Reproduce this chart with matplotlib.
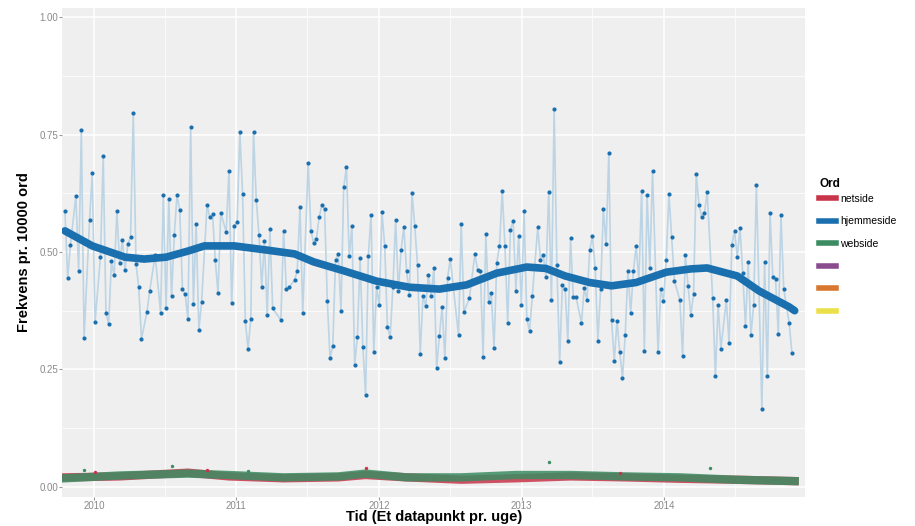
import numpy as np
import pandas as pd
import matplotlib
matplotlib.use("Agg")
import matplotlib.pyplot as plt
import matplotlib.dates as mdates
from matplotlib.lines import Line2D

plt.rcParams['font.family'] = ['Liberation Sans', 'DejaVu Sans']

# start of the weekly series
start = pd.Timestamp("2009-10-19")

# hjemmeside: week number (from start) and frequency
hj_week = [0, 1, 2, 4, 5, 6, 7, 9, 10, 11, 13, 14, 15, 16, 17, 18, 19, 20, 21, 22,
           23, 24, 25, 26, 27, 28, 30, 31, 33, 35, 36, 37, 38, 39, 40, 41, 42, 43, 44, 45,
           46, 47, 48, 49, 50, 52, 53, 54, 55, 56, 57, 59, 60, 61, 62, 63, 64, 65, 66, 67,
           68, 69, 70, 71, 72, 73, 74, 75, 76, 79, 80, 81, 82, 84, 85, 86, 87, 89, 90, 91,
           92, 93, 94, 95, 96, 97, 98, 99, 100, 101, 102, 103, 104, 105, 106, 107, 108, 109, 110, 111,
           112, 113, 114, 115, 116, 117, 118, 119, 120, 121, 122, 123, 124, 125, 126, 127, 128, 129, 130, 131,
           132, 133, 134, 135, 136, 137, 138, 139, 140, 141, 144, 145, 146, 148, 150, 151, 152, 153, 154, 155,
           156, 157, 158, 159, 160, 161, 162, 163, 164, 165, 166, 167, 168, 169, 170, 171, 173, 174, 175, 176,
           177, 178, 179, 180, 181, 182, 183, 184, 185, 186, 187, 189, 190, 191, 192, 193, 194, 195, 196, 197,
           198, 199, 200, 201, 202, 203, 204, 205, 206, 207, 208, 209, 210, 211, 212, 213, 214, 215, 217, 218,
           219, 220, 221, 222, 223, 225, 226, 227, 228, 229, 230, 231, 232, 233, 234, 235, 237, 238, 239, 240,
           242, 243, 244, 245, 246, 247, 248, 249, 250, 251, 252, 253, 255, 256, 257, 258, 259, 260, 261, 262,
           263, 265, 266]
hj_val = [0.587, 0.445, 0.515, 0.62, 0.46, 0.76, 0.317, 0.568, 0.668, 0.35, 0.49, 0.704, 0.37, 0.347, 0.48, 0.45, 0.587, 0.477, 0.525, 0.462,
          0.517, 0.532, 0.796, 0.474, 0.425, 0.315, 0.372, 0.417, 0.493, 0.37, 0.621, 0.38, 0.613, 0.406, 0.536, 0.621, 0.589, 0.421, 0.41, 0.357,
          0.766, 0.39, 0.56, 0.334, 0.394, 0.6, 0.574, 0.581, 0.483, 0.412, 0.583, 0.543, 0.672, 0.391, 0.555, 0.564, 0.755, 0.623, 0.353, 0.294,
          0.357, 0.755, 0.611, 0.536, 0.426, 0.524, 0.366, 0.549, 0.38, 0.355, 0.545, 0.421, 0.425, 0.44, 0.46, 0.596, 0.37, 0.689, 0.545, 0.519,
          0.528, 0.574, 0.6, 0.591, 0.396, 0.274, 0.3, 0.483, 0.496, 0.375, 0.638, 0.681, 0.491, 0.555, 0.26, 0.319, 0.487, 0.298, 0.196, 0.491,
          0.579, 0.287, 0.426, 0.387, 0.585, 0.513, 0.34, 0.319, 0.426, 0.568, 0.417, 0.504, 0.553, 0.46, 0.409, 0.626, 0.555, 0.472, 0.283, 0.406,
          0.385, 0.451, 0.406, 0.466, 0.253, 0.321, 0.383, 0.274, 0.445, 0.485, 0.323, 0.56, 0.372, 0.402, 0.496, 0.462, 0.46, 0.277, 0.538, 0.394,
          0.413, 0.296, 0.477, 0.513, 0.63, 0.513, 0.349, 0.547, 0.566, 0.417, 0.534, 0.387, 0.587, 0.357, 0.332, 0.406, 0.553, 0.483, 0.494, 0.447,
          0.628, 0.398, 0.804, 0.472, 0.266, 0.43, 0.421, 0.311, 0.53, 0.404, 0.404, 0.349, 0.423, 0.398, 0.504, 0.534, 0.466, 0.311, 0.421, 0.591,
          0.517, 0.711, 0.355, 0.268, 0.353, 0.287, 0.232, 0.323, 0.46, 0.37, 0.46, 0.513, 0.438, 0.63, 0.289, 0.621, 0.466, 0.672, 0.287, 0.421,
          0.396, 0.483, 0.623, 0.532, 0.438, 0.398, 0.279, 0.494, 0.428, 0.366, 0.41, 0.666, 0.6, 0.574, 0.583, 0.628, 0.402, 0.236, 0.387, 0.294,
          0.398, 0.306, 0.515, 0.545, 0.489, 0.551, 0.455, 0.343, 0.479, 0.323, 0.387, 0.643, 0.166, 0.479, 0.236, 0.583, 0.447, 0.443, 0.326, 0.579,
          0.421, 0.349, 0.285]

# smoothed trend
sm_week = [0, 10, 22, 29, 37, 45, 51, 62, 74, 84, 91, 102, 114, 126, 137, 147, 158, 169, 176, 183,
           192, 200, 209, 220, 229, 235, 246, 254, 265, 267]
sm_val = [0.545, 0.513, 0.489, 0.485, 0.489, 0.502, 0.513, 0.513, 0.504, 0.496, 0.479, 0.46, 0.438, 0.425, 0.421, 0.43, 0.455, 0.468, 0.465, 0.449,
          0.435, 0.428, 0.435, 0.457, 0.464, 0.466, 0.449, 0.417, 0.383, 0.375]

# netside / webside: low level trends
low_week = [0, 20, 45, 60, 80, 100, 110, 125, 145, 165, 185, 205, 225, 245, 267]
net_val = [0.020, 0.022, 0.030, 0.022, 0.018, 0.020, 0.025, 0.020, 0.015, 0.018, 0.022, 0.020, 0.017, 0.015, 0.012]
web_val = [0.018, 0.024, 0.028, 0.025, 0.020, 0.022, 0.028, 0.020, 0.020, 0.025, 0.025, 0.022, 0.020, 0.015, 0.012]

# a few single weeks that stick out
net_pt_week = [11, 52, 110, 203]
net_pt_val = [0.032, 0.036, 0.040, 0.030]
web_pt_week = [7, 39, 67, 177, 236]
web_pt_val = [0.036, 0.045, 0.034, 0.052, 0.040]

labels = ["netside", "hjemmeside", "webside", "", "", ""]
colors = ["#c8344a", "#1a6faf", "#3b8c62", "#8a4b8f", "#d8782f", "#ece04a"]


def to_dates(weeks):
    return start + pd.to_timedelta(np.array(weeks) * 7, unit="D")


fig = plt.figure(figsize=(9.15, 5.26), dpi=100)
ax = fig.add_axes([0.068, 0.055, 0.812, 0.93])
ax.set_facecolor("#efefef")

# hjemmeside
ax.plot(to_dates(hj_week), hj_val, color="#bcd4e4", lw=1.2, zorder=2)
ax.scatter(to_dates(hj_week), hj_val, s=9, color=colors[1], zorder=4, linewidths=0)
ax.plot(to_dates(sm_week), sm_val, color=colors[1], lw=5.5, solid_capstyle="round", zorder=5)

# netside og webside
ax.plot(to_dates(low_week), net_val, color=colors[0], lw=6, alpha=0.85, zorder=3)
ax.plot(to_dates(low_week), web_val, color=colors[2], lw=6, alpha=0.85, zorder=3)
ax.scatter(to_dates(net_pt_week), net_pt_val, s=6, color=colors[0], zorder=4, linewidths=0)
ax.scatter(to_dates(web_pt_week), web_pt_val, s=6, color=colors[2], zorder=4, linewidths=0)

# akser
ax.set_xlim(pd.Timestamp("2009-10-12"), pd.Timestamp("2014-12-28"))
ax.set_ylim(-0.022, 1.02)
ax.set_yticks([0, 0.25, 0.5, 0.75, 1.0])
ax.set_yticklabels(["0.00", "0.25", "0.50", "0.75", "1.00"])
ax.set_yticks([0.125, 0.375, 0.625, 0.875], minor=True)
ax.xaxis.set_major_locator(mdates.YearLocator())
ax.xaxis.set_major_formatter(mdates.DateFormatter("%Y"))
ax.xaxis.set_minor_locator(mdates.MonthLocator(bymonth=7))
ax.grid(which="major", color="white", lw=1.1)
ax.grid(which="minor", color="white", lw=0.5)
ax.set_axisbelow(True)
for s in ax.spines.values():
    s.set_visible(False)
ax.tick_params(which="major", length=2, color="#999999", labelsize=7, labelcolor="#8a8a8a", pad=1)
ax.tick_params(which="minor", length=0)

ax.set_xlabel("Tid (Et datapunkt pr. uge)", fontsize=10.5, fontweight="bold", labelpad=-1)
ax.set_ylabel("Frekvens pr. 10000 ord", fontsize=10.5, fontweight="bold", labelpad=6)

# legend
handles = [Line2D([], [], color=c, lw=4) for c in colors]
leg = fig.legend(handles, labels, title="Ord", loc="upper left", bbox_to_anchor=(0.885, 0.68),
                 frameon=False, fontsize=7.5, handlelength=1.6, labelspacing=1.2,
                 handletextpad=0.4)
leg.get_title().set_fontweight("bold")
leg.get_title().set_fontsize(8.5)
leg._legend_box.align = "left"
leg._legend_box.sep = 3

fig.savefig("out.png", dpi=100)
